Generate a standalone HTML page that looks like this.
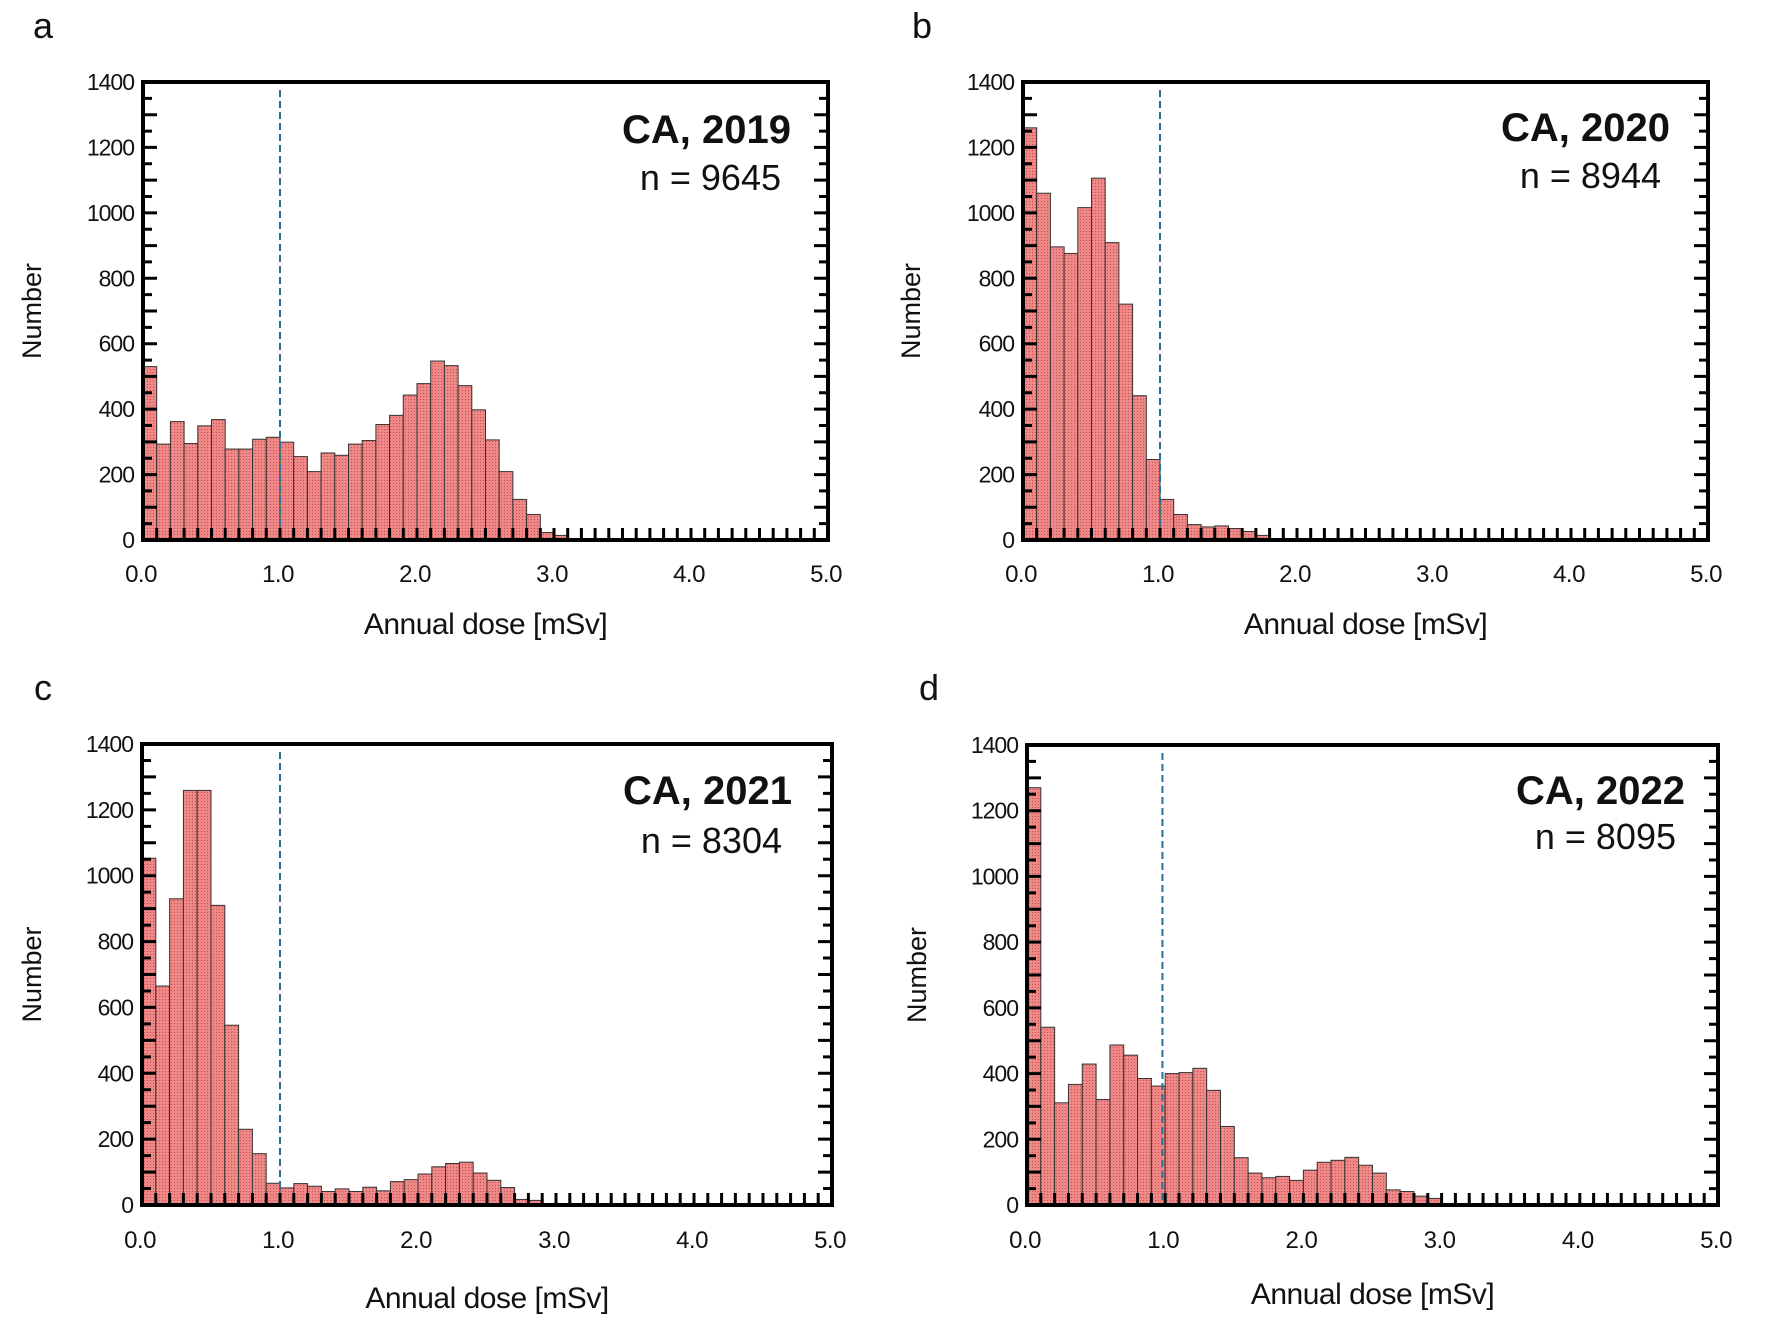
<!DOCTYPE html>
<html><head><meta charset="utf-8"><style>
html,body{margin:0;padding:0;background:#fff;}
svg{display:block;}
text{font-family:"Liberation Sans",sans-serif;fill:#111;}
</style></head><body>
<svg id="s" width="1783" height="1324" viewBox="0 0 1783 1324" xmlns="http://www.w3.org/2000/svg">
<defs>
<pattern id="dots" width="3" height="3" patternUnits="userSpaceOnUse">
<rect width="3" height="3" fill="#f08888"/>
<rect x="0" y="0" width="1" height="1" fill="#c04f4f"/>
</pattern>
</defs>
</svg>
<script>
const S=document.getElementById('s');
const NS='http://www.w3.org/2000/svg';
function el(t,a,txt){const e=document.createElementNS(NS,t);for(const k in a)e.setAttribute(k,a[k]);if(txt!==undefined)e.textContent=txt;S.appendChild(e);return e;}
const panels=[
 {L:143,R:828,T:82,B:540,letter:'a',lx:43,ly:38,title:'CA, 2019',n:'n = 9645',cr:791,cb:143,nr:781,nb:190,tb:582,xb:634,nx:32,vline:1.0,
  d:[530,293,362,295,349,368,278,278,308,314,299,255,209,266,259,293,304,353,381,443,478,547,533,472,398,306,209,124,78,23,14]},
 {L:1023,R:1708,T:82,B:540,letter:'b',lx:922,ly:38,title:'CA, 2020',n:'n = 8944',cr:1670,cb:141,nr:1661,nb:188,tb:582,xb:634,nx:911,vline:1.0,
  d:[1260,1060,896,876,1016,1106,909,721,441,246,124,78,47,40,43,35,26,14,4]},
 {L:142,R:832,T:744,B:1205,letter:'c',lx:43,ly:700,title:'CA, 2021',n:'n = 8304',cr:792,cb:804,nr:782,nb:853,tb:1248,xb:1308,nx:32,vline:1.0,
  d:[1053,665,930,1259,1259,910,546,230,156,66,52,65,57,41,49,41,54,43,71,77,94,116,126,130,97,75,53,17,14]},
 {L:1027,R:1718,T:745,B:1205,letter:'d',lx:929,ly:700,title:'CA, 2022',n:'n = 8095',cr:1685,cb:804,nr:1676,nb:849,tb:1248,xb:1304,nx:917,vline:0.98,
  d:[1270,541,311,367,429,321,487,456,385,362,400,403,416,349,239,144,97,83,87,75,106,130,136,145,121,97,46,41,27,20]}
];
for(const p of panels){
 const W=p.R-p.L,H=p.B-p.T;
 const X=v=>p.L+v/5*W, Y=v=>p.B-v/1400*H;
 p.d.forEach((v,i)=>{const x0=X(i*0.1),x1=X((i+1)*0.1);
  el('rect',{x:x0,y:Y(v),width:x1-x0,height:p.B-Y(v),fill:'url(#dots)',stroke:'#333','stroke-width':1});});
 el('line',{x1:X(p.vline),x2:X(p.vline),y1:p.T+8,y2:p.B,stroke:'#2a6f97','stroke-width':2,'stroke-dasharray':'7,4'});
 let tk='';
 for(let v=50;v<1400;v+=50){const y=Y(v),len=(v%100===0)?14:9;
  tk+=`M${p.L} ${y}h${len}M${p.R} ${y}h${-len}`;}
 for(let i=1;i<50;i++){const x=X(i*0.1);tk+=`M${x} ${p.B}v-12`;}
 el('path',{d:tk,stroke:'#000','stroke-width':3,fill:'none'});
 el('rect',{x:p.L,y:p.T,width:W,height:H,fill:'none',stroke:'#000','stroke-width':4});
 for(let v=0;v<=1400;v+=200){el('text',{x:p.L-9,y:Y(v)+8,'text-anchor':'end','font-size':23,'letter-spacing':-1},String(v));}
 for(let v=0;v<=5;v++){el('text',{x:X(v)-2,y:p.tb,'text-anchor':'middle','font-size':24,'letter-spacing':-0.5},v.toFixed(1));}
 el('text',{x:(p.L+p.R)/2,y:p.xb,'text-anchor':'middle','font-size':30,'letter-spacing':-0.5},'Annual dose [mSv]');
 const cy=(p.T+p.B)/2;
 el('text',{x:p.nx,y:cy,'text-anchor':'middle','font-size':27,transform:`rotate(-90 ${p.nx} ${cy})`,dy:9},'Number');
 el('text',{x:p.cr,y:p.cb,'text-anchor':'end','font-size':40,'font-weight':'bold'},p.title);
 el('text',{x:p.nr,y:p.nb,'text-anchor':'end','font-size':36},p.n);
 el('text',{x:p.lx,y:p.ly,'text-anchor':'middle','font-size':36},p.letter);
}
</script>
</body></html>
